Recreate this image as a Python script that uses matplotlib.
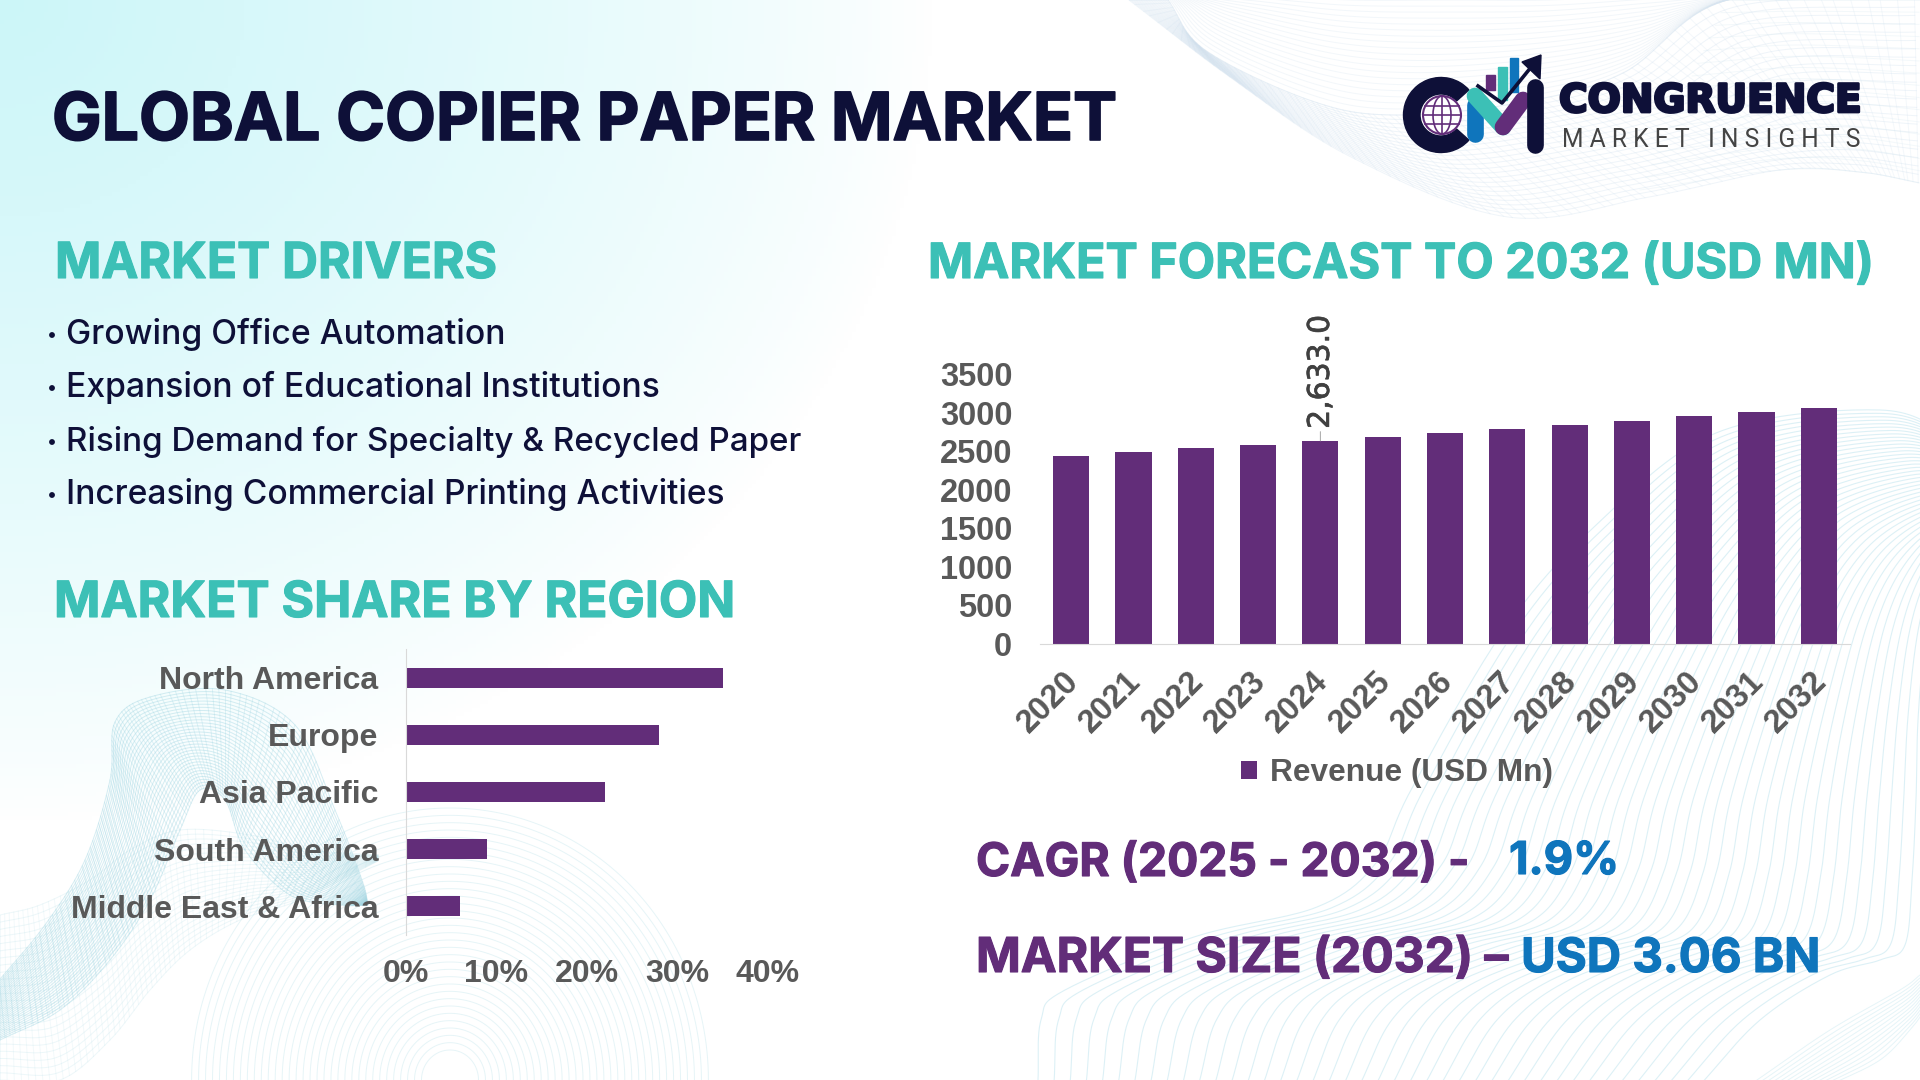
import matplotlib
matplotlib.use('Agg')
import matplotlib.pyplot as plt
import matplotlib.patheffects as pe
from matplotlib.patches import Wedge, Circle, Ellipse, Rectangle, Polygon
from matplotlib.transforms import ScaledTranslation
import numpy as np

# chart data
years = ['2020', '2021', '2022', '2023', '2024', '2025', '2026', '2027', '2028', '2029', '2030', '2031', '2032']
revenue = [2438, 2490, 2542, 2581, 2633, 2685, 2737, 2789, 2840, 2892, 2957, 3009, 3060]
regions = ['North America', 'Europe', 'Asia Pacific', 'South America', 'Middle East & Africa']
shares = [35, 28, 22, 9, 6]
drivers = ['Growing Office Automation', 'Expansion of Educational Institutions',
           'Rising Demand for Specialty & Recycled Paper', 'Increasing Commercial Printing Activities']

NAVY = '#0e1038'
TEAL = '#3cc0b6'
PURPLE = '#622d79'
BLUE = '#0f75bc'
GREY = '#595959'
HEAD_FONT = ['Inter', 'DejaVu Sans']
BODY_FONT = ['Inter', 'Lato', 'DejaVu Sans']
AXIS_FONT = 'Liberation Sans'

W, H = 1920, 1080
fig = plt.figure(figsize=(W / 100, H / 100), dpi=100, facecolor='white')
bg = fig.add_axes([0, 0, 1, 1])
bg.set_xlim(0, W)
bg.set_ylim(H, 0)
bg.axis('off')
renderer = fig.canvas.get_renderer()


def fit_text(x0, x1, base, s, color, family, weight='bold', start=30, stroke=0):
    # Put text between two pixel columns, size picked so that the width matches
    t = bg.text(x0, base, s, color=color, family=family, fontweight=weight,
                fontsize=start, ha='left', va='baseline', zorder=5)
    width = t.get_window_extent(renderer).width
    t.set_fontsize(start * (x1 - x0) / width)
    if stroke:
        t.set_path_effects([pe.withStroke(linewidth=stroke, foreground=color)])
    return t


def smooth(pts, n=240):
    # Catmull-Rom through the control points
    p = np.array(pts, dtype=float)
    p = np.vstack([2 * p[0] - p[1], p, 2 * p[-1] - p[-2]])
    out = []
    per = n // (len(p) - 3)
    for i in range(1, len(p) - 2):
        t = np.linspace(0, 1, per, endpoint=False)[:, None]
        out.append(0.5 * (2 * p[i] + (p[i + 1] - p[i - 1]) * t
                          + (2 * p[i - 1] - 5 * p[i] + 4 * p[i + 1] - p[i + 2]) * t ** 2
                          + (3 * p[i] - p[i - 1] - 3 * p[i + 1] + p[i + 2]) * t ** 3))
    return np.vstack(out)


def mesh(a, b, n, color, alpha, lw=0.7, cross=0):
    # Family of lines between two curves, with optional crossing lines
    A, B = smooth(a), smooth(b)
    for t in np.linspace(0, 1, n):
        c = (1 - t) * A + t * B
        bg.plot(c[:, 0], c[:, 1], color=color, alpha=alpha, lw=lw, zorder=1)
    if cross:
        for i in np.linspace(0, len(A) - 1, cross).astype(int):
            bg.plot([A[i, 0], B[i, 0]], [A[i, 1], B[i, 1]], color=color, alpha=alpha * 0.7, lw=lw, zorder=1)


# pale cyan wash in the top left corner
yy, xx = np.mgrid[0:H:4, 0:W:4]
d = np.sqrt((xx / 930.0) ** 2 + (yy / 820.0) ** 2)
fade = np.clip(1 - d, 0, 1) ** 0.8
wash = np.ones(xx.shape + (3,))
for k, v in enumerate((0.80, 0.965, 0.975)):
    wash[..., k] = 1 - (1 - v) * fade
bg.imshow(wash, extent=[0, W, H, 0], zorder=0, aspect='auto')
bg.set_xlim(0, W)
bg.set_ylim(H, 0)

# top right wave
upper = [(1168, 0), (1205, 50), (1309, 100), (1393, 115), (1518, 103), (1623, 73), (1727, 0), (1920, -10)]
lower = [(1129, 0), (1230, 77), (1351, 157), (1508, 217), (1649, 197), (1780, 170), (1860, 172), (1920, 183)]
top_edge = [(1200, -5), (1260, -5), (1350, 0), (1450, 0), (1550, 0), (1650, -5), (1750, -5), (1920, -5)]
mesh(upper, lower, 24, '#cbdded', 0.3, cross=90)
mesh(top_edge, upper, 20, '#d6e4f0', 0.3)
mesh([(1727, 0), (1780, 0), (1840, 0), (1920, 0)], [(1640, 190), (1780, 170), (1860, 172), (1920, 183)], 16, '#d6e8f0', 0.28)

# bottom right wave
ridge = [(1038, 1080), (1041, 1020), (1065, 990), (1194, 937), (1317, 907), (1376, 863), (1411, 790),
         (1502, 633), (1594, 527), (1716, 433), (1880, 410), (1960, 440)]
far = [(1700, 1085), (1760, 1020), (1830, 975), (1880, 960), (1905, 945), (1912, 880), (1916, 800),
       (1918, 720), (1925, 640), (1935, 590), (1950, 550), (1990, 530)]
mesh(ridge, far, 42, '#c6e7f0', 0.6, lw=0.8)
mesh([(1757, 1080), (1830, 1030), (1900, 990), (1920, 975)], [(1830, 1085), (1880, 1060), (1910, 1030), (1925, 1010)],
     14, '#cdeaf1', 0.5)

# bottom left waves
for r in np.linspace(30, 272, 34):
    th = np.linspace(np.pi, 2 * np.pi, 120)
    bg.plot(450 + r * 0.95 * np.cos(th), 1080 + r * np.sin(th), color='#d2ecf1', alpha=0.55, lw=0.7, zorder=1)
blob_a = [(-5, 985), (45, 925), (85, 860), (110, 780), (115, 722), (150, 697), (225, 690), (295, 725), (335, 810), (362, 880), (368, 905)]
blob_b = [(0, 1040), (60, 1010), (110, 960), (150, 900), (180, 830), (200, 790), (225, 800), (245, 850), (290, 895), (340, 905), (368, 905)]
mesh(blob_a, blob_b, 34, '#9fd5e2', 0.42, cross=110)
low_a = [(0, 915), (40, 905), (90, 880), (130, 850), (180, 830), (250, 835), (310, 850), (380, 855)]
low_b = [(0, 1080), (60, 1080), (110, 1040), (150, 990), (190, 950), (240, 920), (300, 900), (380, 860)]
mesh(low_a, low_b, 24, '#a8d9e4', 0.2, cross=60)

# title and headings
fit_text(52, 1117, 140, 'GLOBAL COPIER PAPER MARKET', NAVY, HEAD_FONT, stroke=1.2)
fit_text(55, 497, 278, 'MARKET DRIVERS', TEAL, HEAD_FONT, stroke=0.8)
fit_text(928, 1873, 278, 'MARKET FORECAST TO 2032 (USD MN)', TEAL, HEAD_FONT, stroke=0.8)
fit_text(54, 735, 617, 'MARKET SHARE BY REGION', TEAL, HEAD_FONT, stroke=0.8)

# driver bullets
driver_ends = [505, 660, 802, 726]
driver_base = [344, 397, 451, 504]
for s, x1, y in zip(drivers, driver_ends, driver_base):
    bg.add_patch(Circle((52, y - 9), 2.2, color=NAVY, zorder=5))
    fit_text(66, x1, y, s, NAVY, BODY_FONT, weight='medium')

# kpi lines
fit_text(976, 1469, 876, 'CAGR (2025 - 2032) -', PURPLE, HEAD_FONT, stroke=0.8)
fit_text(1509, 1619, 874, '1.9%', BLUE, HEAD_FONT, stroke=0.8)
fit_text(976, 1508, 972, 'MARKET SIZE (2032) –', PURPLE, HEAD_FONT, stroke=0.8)
fit_text(1521, 1820, 972, 'USD 3.06 BN', BLUE, HEAD_FONT, stroke=0.8)

# logo
bg.add_patch(Wedge((1441, 115), 37.5, 42, 318, width=16.5, color=NAVY, zorder=5))
bg.add_patch(Circle((1442, 115), 19, facecolor='white', edgecolor=PURPLE, lw=1.5, zorder=5))
bg.add_patch(Ellipse((1442, 115), 18, 38, facecolor='none', edgecolor=PURPLE, lw=1.2, zorder=5))
for dy in (-9, 0, 9):
    half = np.sqrt(19 ** 2 - dy ** 2)
    bg.plot([1442 - half, 1442 + half], [115 + dy, 115 + dy], color=PURPLE, lw=1.2, zorder=5)
bg.plot([1442, 1442], [96, 134], color=PURPLE, lw=1.2, zorder=5)
for x0, x1, y0, y1, col in ((1486, 1495, 75, 90, PURPLE), (1498, 1507, 67, 100, TEAL), (1510, 1518, 58, 92, BLUE)):
    bg.add_patch(Rectangle((x0, y0), x1 - x0, y1 - y0, color=col, zorder=5))
bg.plot([1475, 1475], [105, 134], color=BLUE, lw=12, solid_capstyle='round', zorder=6)
bg.plot([1475, 1503], [96, 127], color=TEAL, lw=12, solid_capstyle='round', zorder=7)
bg.plot([1503, 1523], [127, 100], color=PURPLE, lw=12, solid_capstyle='round', zorder=7)
bg.plot([1535, 1535], [87, 145], color=NAVY, lw=12, solid_capstyle='round', zorder=8)
bg.plot([1478, 1502, 1532], [86, 103, 66], color=NAVY, lw=2.6, zorder=9)
bg.add_patch(Polygon([(1541, 55), (1540, 79), (1522, 62)], color=NAVY, zorder=9))
fit_text(1559, 1862, 112, 'CONGRUENCE', NAVY, ['DejaVu Sans'], stroke=2)
fit_text(1562, 1860, 147, 'M A R K E T   I N S I G H T S', '#444444', ['Roboto', 'Lato'], weight='normal')


def px_axes(left, right, top, bottom):
    ax = fig.add_axes([left / W, 1 - bottom / H, (right - left) / W, (bottom - top) / H])
    ax.patch.set_alpha(0)
    return ax


# revenue column chart
ax1 = px_axes(1040, 1850, 374, 644)
ax1.bar(range(len(years)), revenue, width=0.58, color=PURPLE, label='Revenue (USD Mn)')
ax1.set_xlim(-0.5, len(years) - 0.5)
ax1.set_ylim(0, 3500)
ax1.set_yticks(range(0, 3501, 500))
ax1.set_xticks(range(len(years)))
ax1.set_xticklabels(years, rotation=45, ha='right', va='top', rotation_mode='anchor')
for side in ('top', 'right', 'left'):
    ax1.spines[side].set_visible(False)
ax1.spines['bottom'].set_color('#d9d9d9')
ax1.tick_params(length=0)
ax1.tick_params(axis='x', pad=16)
ax1.tick_params(axis='y', pad=20)
shift = ScaledTranslation(-8 / 100, 0, fig.dpi_scale_trans)
for lab in ax1.get_xticklabels():
    lab.set_transform(lab.get_transform() + shift)
for lab in ax1.get_xticklabels() + ax1.get_yticklabels():
    lab.set_family(AXIS_FONT)
    lab.set_fontweight('bold')
    lab.set_fontsize(23.5)
    lab.set_color(GREY)
ax1.annotate(f'{revenue[4]:,.1f}', xy=(4, revenue[4]), xytext=(0, 12), textcoords='offset pixels',
             rotation=90, ha='center', va='bottom', fontsize=21.5, color='#404040', family='DejaVu Sans',
             path_effects=[pe.withStroke(linewidth=0.5, foreground='#404040')],
             arrowprops=dict(arrowstyle='-', color='#a6a6a6', lw=0.7, shrinkA=0, shrinkB=0))
ax1.legend(loc='center', bbox_to_anchor=(0.441, -0.477), frameon=False, handlelength=0.5, handleheight=0.5,
           handletextpad=0.4, prop=dict(family=AXIS_FONT, weight='bold', size=22.8), labelcolor=GREY)

# region share bars
ax2 = px_axes(406, 768, 649, 935)
pos = np.arange(len(regions))
ax2.barh(pos, shares, height=0.35, color=PURPLE)
ax2.set_ylim(len(regions) - 0.5, -0.5)
ax2.set_xlim(0, 40)
ax2.set_yticks(pos)
ax2.set_yticklabels(regions)
ax2.set_xticks(range(0, 41, 10))
ax2.set_xticklabels([f'{v}%' for v in range(0, 41, 10)])
for side in ('top', 'right', 'bottom'):
    ax2.spines[side].set_visible(False)
ax2.spines['left'].set_color('#d9d9d9')
ax2.tick_params(length=0)
ax2.tick_params(axis='y', pad=20)
ax2.tick_params(axis='x', pad=17)
for lab in ax2.get_xticklabels() + ax2.get_yticklabels():
    lab.set_family(AXIS_FONT)
    lab.set_fontweight('bold')
    lab.set_fontsize(23)
    lab.set_color(GREY)

fig.savefig('out.png', dpi=100)
